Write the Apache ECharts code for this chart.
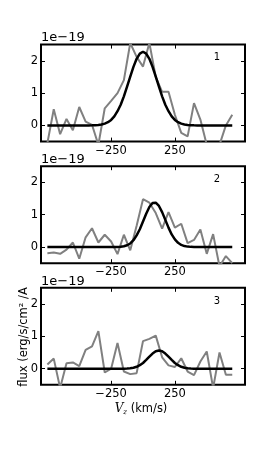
<!DOCTYPE html>
<html><head><meta charset="utf-8">
<script src="https://cdn.jsdelivr.net/npm/echarts@6/dist/echarts.min.js"></script>
<style>html,body{margin:0;padding:0;background:#fff}#c{width:273px;height:453px}</style>
</head><body><div id="c"></div>
<script>
// Observed data grid (km/s)
const velocity = [-750,-700,-650,-600,-550,-500,-450,-400,-350,-300,-250,-200,-150,-100,-50,0,50,100,150,200,250,300,350,400,450,500,550,600,650,700];
// Model grid (km/s)
const modelVelocity = [-750,-725,-700,-675,-650,-625,-600,-575,-550,-525,-500,-475,-450,-425,-400,-375,-350,-325,-300,-275,-250,-225,-200,-175,-150,-125,-100,-75,-50,-25,0,25,50,75,100,125,150,175,200,225,250,275,300,325,350,375,400,425,450,475,500,525,550,575,600,625,650,675,700];

// Flux in units of 1e-19
const flux1 = [-0.55,0.5,-0.27,0.2,-0.15,0.57,0.12,0.02,-0.6,0.53,0.76,1.0,1.4,2.55,2.12,1.82,2.55,1.5,1.04,1.04,0.33,-0.23,-0.34,0.69,0.18,-0.6,-0.7,-0.6,0.0,0.33];
const flux2 = [-0.19,-0.17,-0.21,-0.08,0.14,-0.36,0.3,0.58,0.14,0.38,0.17,-0.22,0.38,-0.1,0.66,1.48,1.37,1.05,0.57,1.08,0.6,0.72,0.12,0.22,0.54,-0.21,0.4,-0.6,-0.28,-0.5];
const flux3 = [0.13,0.31,-0.6,0.17,0.19,0.08,0.58,0.69,1.16,-0.12,0.0,0.79,-0.09,-0.17,-0.14,0.85,0.92,1.02,0.35,0.1,0.05,0.32,-0.09,-0.2,0.22,0.53,-0.6,0.5,-0.19,-0.19];

const model1 = [0,0,0,0,0,0,0,0,0,0,0,0,0,0,0.003,0.007,0.014,0.029,0.055,0.10,0.17,0.28,0.44,0.64,0.90,1.20,1.51,1.81,2.06,2.22,2.28,2.22,2.06,1.81,1.51,1.20,0.90,0.64,0.44,0.28,0.17,0.10,0.055,0.029,0.014,0.007,0.003,0,0,0,0,0,0,0,0,0,0,0,0];
const model2 = [0,0,0,0,0,0,0,0,0,0,0,0,0,0,0,0,0,0,0,0,0,0,0.004,0.011,0.026,0.056,0.11,0.21,0.36,0.55,0.79,1.03,1.24,1.36,1.37,1.27,1.08,0.84,0.60,0.39,0.235,0.13,0.065,0.03,0.013,0.005,0.002,0,0,0,0,0,0,0,0,0,0,0,0];
const model3 = [0,0,0,0,0,0,0,0,0,0,0,0,0,0,0,0,0,0,0,0,0,0,0,0,0,0.005,0.013,0.029,0.057,0.105,0.175,0.27,0.37,0.465,0.535,0.56,0.535,0.465,0.37,0.27,0.175,0.105,0.057,0.029,0.013,0.005,0,0,0,0,0,0,0,0,0,0,0,0,0];

const xTickValues = [-250, 250];
const yTickValues = [0, 1, 2];
const panelLabels = ['1', '2', '3'];
const offsetLabel = '1e\u221219';
const yLabel = 'flux (erg/s/cm\u00b2 /A';

const fluxes = [flux1, flux2, flux3];
const models = [model1, model2, model3];

const F = 'DejaVu Sans';
const tops = [44.6, 166.2, 287.8];
const H = 97;
const L = 41, W = 204;
const minus = v => (v < 0 ? '\u2212' + Math.abs(v) : String(v));

const grid = [], xAxis = [], yAxis = [], series = [], graphic = [];
tops.forEach((t, i) => {
  grid.push({left: L, width: W, top: t, height: H, show: true, borderColor: '#000', borderWidth: 2,
    backgroundColor: 'transparent', containLabel: false, outerBoundsMode: 'none'});
  const tick = {show: true, inside: true, length: 4, lineStyle: {color: '#000', width: 1}};
  const line = {show: false, onZero: false};
  xAxis.push({gridIndex: i, type: 'value', min: -800, max: 800, position: 'bottom',
    axisLine: line, splitLine: {show: false},
    axisTick: Object.assign({customValues: xTickValues}, tick),
    axisLabel: {show: true, customValues: xTickValues, formatter: minus, fontSize: 11.5, fontFamily: F, color: '#000', margin: 3}});
  xAxis.push({gridIndex: i, type: 'value', min: -800, max: 800, position: 'top',
    axisLine: line, splitLine: {show: false},
    axisTick: Object.assign({customValues: xTickValues}, tick),
    axisLabel: {show: false}});
  yAxis.push({gridIndex: i, type: 'value', min: -0.5, max: 2.5, position: 'left',
    axisLine: line, splitLine: {show: false},
    axisTick: Object.assign({customValues: yTickValues}, tick),
    axisLabel: {show: true, customValues: yTickValues, fontSize: 11.5, fontFamily: F, color: '#000', margin: 3}});
  yAxis.push({gridIndex: i, type: 'value', min: -0.5, max: 2.5, position: 'right',
    axisLine: line, splitLine: {show: false},
    axisTick: Object.assign({customValues: yTickValues}, tick),
    axisLabel: {show: false}});
  series.push({type: 'line', xAxisIndex: 2 * i, yAxisIndex: 2 * i, showSymbol: false, animation: false, z: 2,
    data: velocity.map((v, k) => [v, fluxes[i][k]]), lineStyle: {color: '#808080', width: 2}});
  series.push({type: 'line', xAxisIndex: 2 * i, yAxisIndex: 2 * i, showSymbol: false, animation: false, z: 3,
    data: modelVelocity.map((v, k) => [v, models[i][k]]), lineStyle: {color: '#000', width: 2.5}});
  graphic.push({type: 'text', x: L, y: t - 6.6, style: {text: offsetLabel, fontSize: 13, fontFamily: F, fill: '#000', align: 'left', verticalAlign: 'middle'}});
  graphic.push({type: 'text', x: 217, y: t + 13.3, style: {text: panelLabels[i], fontSize: 10, fontFamily: F, fill: '#000', align: 'center', verticalAlign: 'middle'}});
});
graphic.push({type: 'text', x: 24, y: 337, rotation: Math.PI / 2,
  style: {text: yLabel, fontSize: 11.5, fontFamily: F, fill: '#000', align: 'center', verticalAlign: 'middle'}});
graphic.push({type: 'text', x: 141, y: 409,
  style: {text: '{v|V}{z|z}{t| (km/s)}', align: 'center', verticalAlign: 'middle', fill: '#000',
    rich: {
      v: {fontSize: 12, fontFamily: 'DejaVu Serif', fontStyle: 'italic', fill: '#000'},
      z: {fontSize: 7, fontFamily: 'DejaVu Serif', fontStyle: 'italic', fill: '#000', padding: [7, 0, 0, 0]},
      t: {fontSize: 11.5, fontFamily: F, fill: '#000'}
    }}});

const chart = echarts.init(document.getElementById('c'), null, {renderer: 'canvas'});
chart.setOption({animation: false, backgroundColor: '#fff', grid, xAxis, yAxis, series, graphic});
</script></body></html>
